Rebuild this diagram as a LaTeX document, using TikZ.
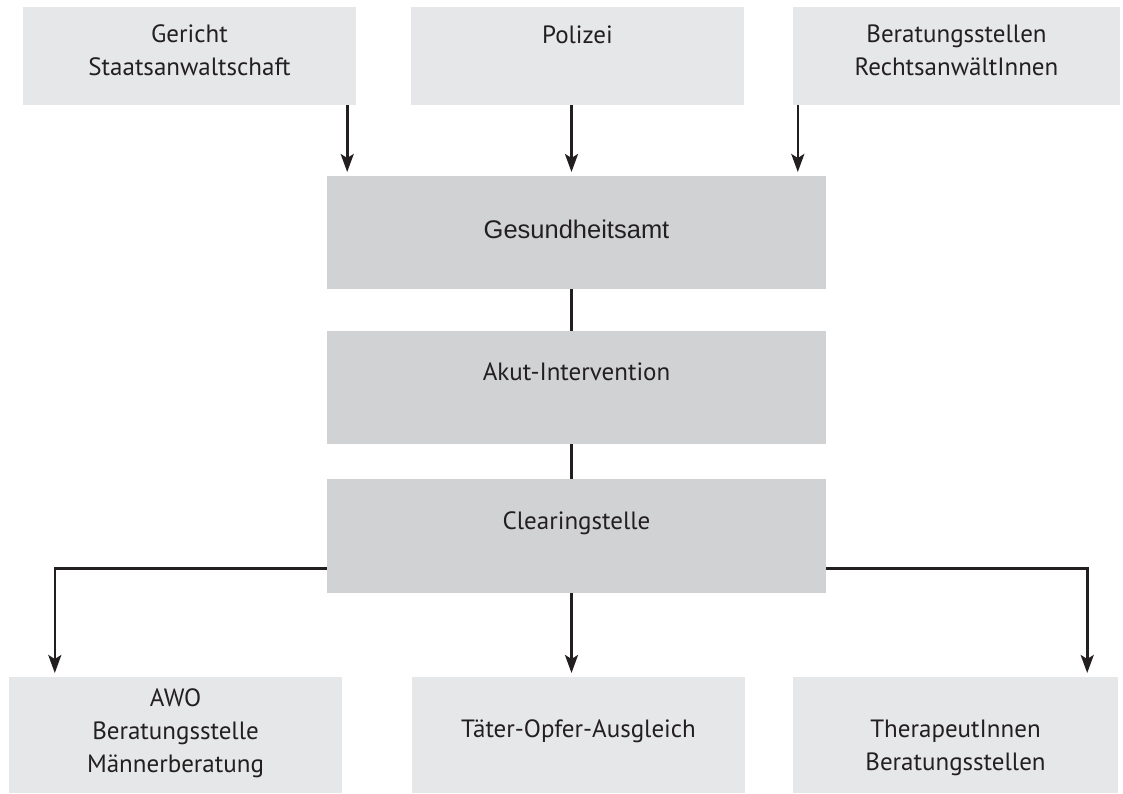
\documentclass[tikz,border=0pt]{standalone}
\usepackage{fontspec}
\setmainfont{PT Sans}
\newfontfamily\helvfont{Liberation Sans}
\usetikzlibrary{arrows.meta}
\definecolor{boxlight}{HTML}{E6E7E8}
\definecolor{boxdark}{HTML}{D1D2D4}
\definecolor{ink}{HTML}{231F20}
\tikzset{
  fillbox/.style={fill=#1, inner sep=0pt, align=center, anchor=north, text=ink,
    font=\fontsize{25}{33}\selectfont},
  sidebox/.style={fillbox=boxlight, minimum width=333pt},
  midbox/.style={fillbox=boxdark, minimum width=499pt},
  link/.style={draw=ink, line width=2.6pt},
  arr/.style={link, -{Stealth[length=18pt,width=13pt,inset=4pt]}, shorten >=4pt},
}

\begin{document}
\begin{tikzpicture}[x=1pt,y=-1pt]
  \useasboundingbox (0,0) rectangle (1123,794);

  \node[sidebox, text height=68pt, text depth=30pt] (gericht) at (189.5,7) {Gericht\\Staatsanwaltschaft};
  \node[sidebox, text height=36pt, text depth=62pt] (polizei) at (577.5,7) {Polizei};
  \node[sidebox, minimum width=327pt, text height=68pt, text depth=30pt] (beratung) at (956.5,7) {Beratungsstellen\\RechtsanwältInnen};

  \node[midbox, text height=62pt, text depth=51pt, font=\helvfont\fontsize{25.5}{30}\selectfont] (gesund) at (576.5,176) {Gesundheitsamt};
  \node[midbox, text height=49pt, text depth=64pt] (akut) at (576.5,331) {Akut-Intervention};
  \node[midbox, text height=50pt, text depth=64pt] (clearing) at (576.5,479) {Clearingstelle};

  \node[sidebox, text height=95pt, text depth=21pt] (awo) at (175.5,677) {AWO\\Beratungsstelle\\Männerberatung};
  \node[sidebox, text height=60pt, text depth=56pt] (taeter) at (578.5,677) {Täter-Opfer-Ausgleich};
  \node[sidebox, minimum width=325pt, text height=93pt, text depth=23pt] (therapeut) at (955.5,677) {TherapeutInnen\\Beratungsstellen};

  \draw[arr] ([xshift=-9pt]gericht.south east) -- ([xshift=-9pt]gericht.south east |- gesund.north);
  \draw[arr] ([xshift=-6pt]polizei.south) -- ([xshift=-6pt]polizei.south |- gesund.north);
  \draw[arr] ([xshift=5pt]beratung.south west) -- ([xshift=5pt]beratung.south west |- gesund.north);

  \draw[link] ([xshift=-5pt]gesund.south) -- ([xshift=-5pt]akut.north);
  \draw[link] ([xshift=-5pt]akut.south) -- ([xshift=-5pt]clearing.north);

  \draw[arr] ([xshift=-5pt]clearing.south) -- ([xshift=-5pt]clearing.south |- taeter.north);
  \draw[arr] ([yshift=-32pt]clearing.west) -| ([xshift=46pt]awo.north west);
  \draw[arr] ([yshift=-32pt]clearing.east) -| ([xshift=-31pt]therapeut.north east);
\end{tikzpicture}
\end{document}
